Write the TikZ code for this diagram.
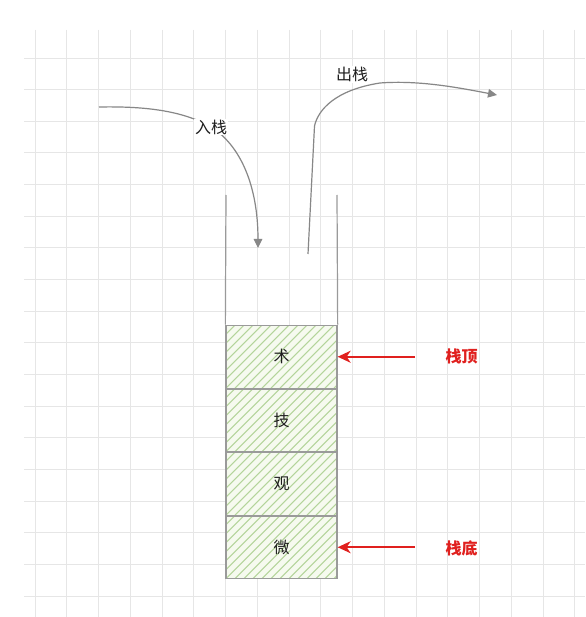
\documentclass[tikz,border=0pt]{standalone}
\usepackage{fontspec}
\setmainfont{Noto Sans CJK SC}
\usetikzlibrary{arrows.meta,calc}
\definecolor{gridc}{HTML}{E6E6E6}
\definecolor{arrowc}{HTML}{878787}
\definecolor{wallc}{HTML}{9A9A9A}
\definecolor{boxc}{HTML}{9A9A9A}
\definecolor{hatchc}{HTML}{B4D49A}
\definecolor{bgc}{HTML}{F6FAEF}
\definecolor{redc}{HTML}{E0201E}
\definecolor{txtc}{HTML}{1E1E1E}
\begin{document}
\begin{tikzpicture}[x=1pt,y=-1pt,
  gridline/.style={draw=gridc,line width=0.9pt},
  wall/.style={draw=wallc,line width=1.2pt},
  stackbox/.style={draw=boxc,line width=1.3pt,minimum width=111pt,minimum height=62.8pt,
    inner sep=0pt,fill=bgc,
    path picture={\foreach \k in {-8,...,13}
      \draw[hatchc,line width=1.1pt] ($(path picture bounding box.south west)+(\k*9,0)$) -- ++(75,-75);},
    font=\fontsize{16}{16}\selectfont,text=txtc},
  grayarrow/.style={draw=arrowc,line width=1.2pt,-{Triangle[length=9pt,width=8.5pt]}},
  redarrow/.style={draw=redc,line width=1.6pt,-{Stealth[length=13pt,width=12pt,inset=4pt]}},
  curvelbl/.style={fill=white,inner sep=1pt,font=\fontsize{16}{16}\selectfont,text=txtc},
  redlbl/.style={inner sep=1pt,font=\fontsize{16}{16}\selectfont\bfseries,text=redc}]
\useasboundingbox (0,0) rectangle (585,617);
\fill[white] (0,0) rectangle (585,617);
% grid
\foreach \i in {0,...,17} \draw[gridline] ({35+31.75*\i},30) -- ({35+31.75*\i},617);
\foreach \j in {0,...,17} \draw[gridline] (24,{58+31.65*\j}) -- (585,{58+31.65*\j});
% stack boxes
\node[stackbox] (b1) at (281.5,356.75) {术};
\node[stackbox] (b2) at (281.5,420.25) {技};
\node[stackbox] (b3) at (281.5,483.75) {观};
\node[stackbox] (b4) at (281.5,547.25) {微};
% walls
\coordinate (wl) at (226,195);
\coordinate (wr) at (337,195);
\draw[wall] (wl) -- (b1.north west);
\draw[wall] (wr) -- (b1.north east);
% push arrow
\coordinate (in0) at (99,107);
\coordinate (inm) at (211,127);
\coordinate (in1) at (258,248);
\draw[grayarrow] (in0) .. controls (150,106) and (185,112) .. (inm) .. controls (240,145) and (258,185) .. (in1);
\node[curvelbl] (inl) at (inm) {入栈};
% pop arrow
\coordinate (out0) at (308,254);
\coordinate (out1) at (497,95);
\draw[grayarrow] (out0) -- (314.5,126) .. controls (318,110) and (335,90) .. (380,83) .. controls (420,80) and (460,88) .. (out1);
\node[curvelbl] (outl) at (352,74.5) {出栈};
% red markers
\node[redlbl] (topl) at (461.5,356.75) {栈顶};
\coordinate (ta) at (415,356.75);
\draw[redarrow] (ta) -- (b1.east);
\node[redlbl] (botl) at (461.5,548) {栈底};
\coordinate (ba) at (415,547.25);
\draw[redarrow] (ba) -- (b4.east);
\end{tikzpicture}
\end{document}
